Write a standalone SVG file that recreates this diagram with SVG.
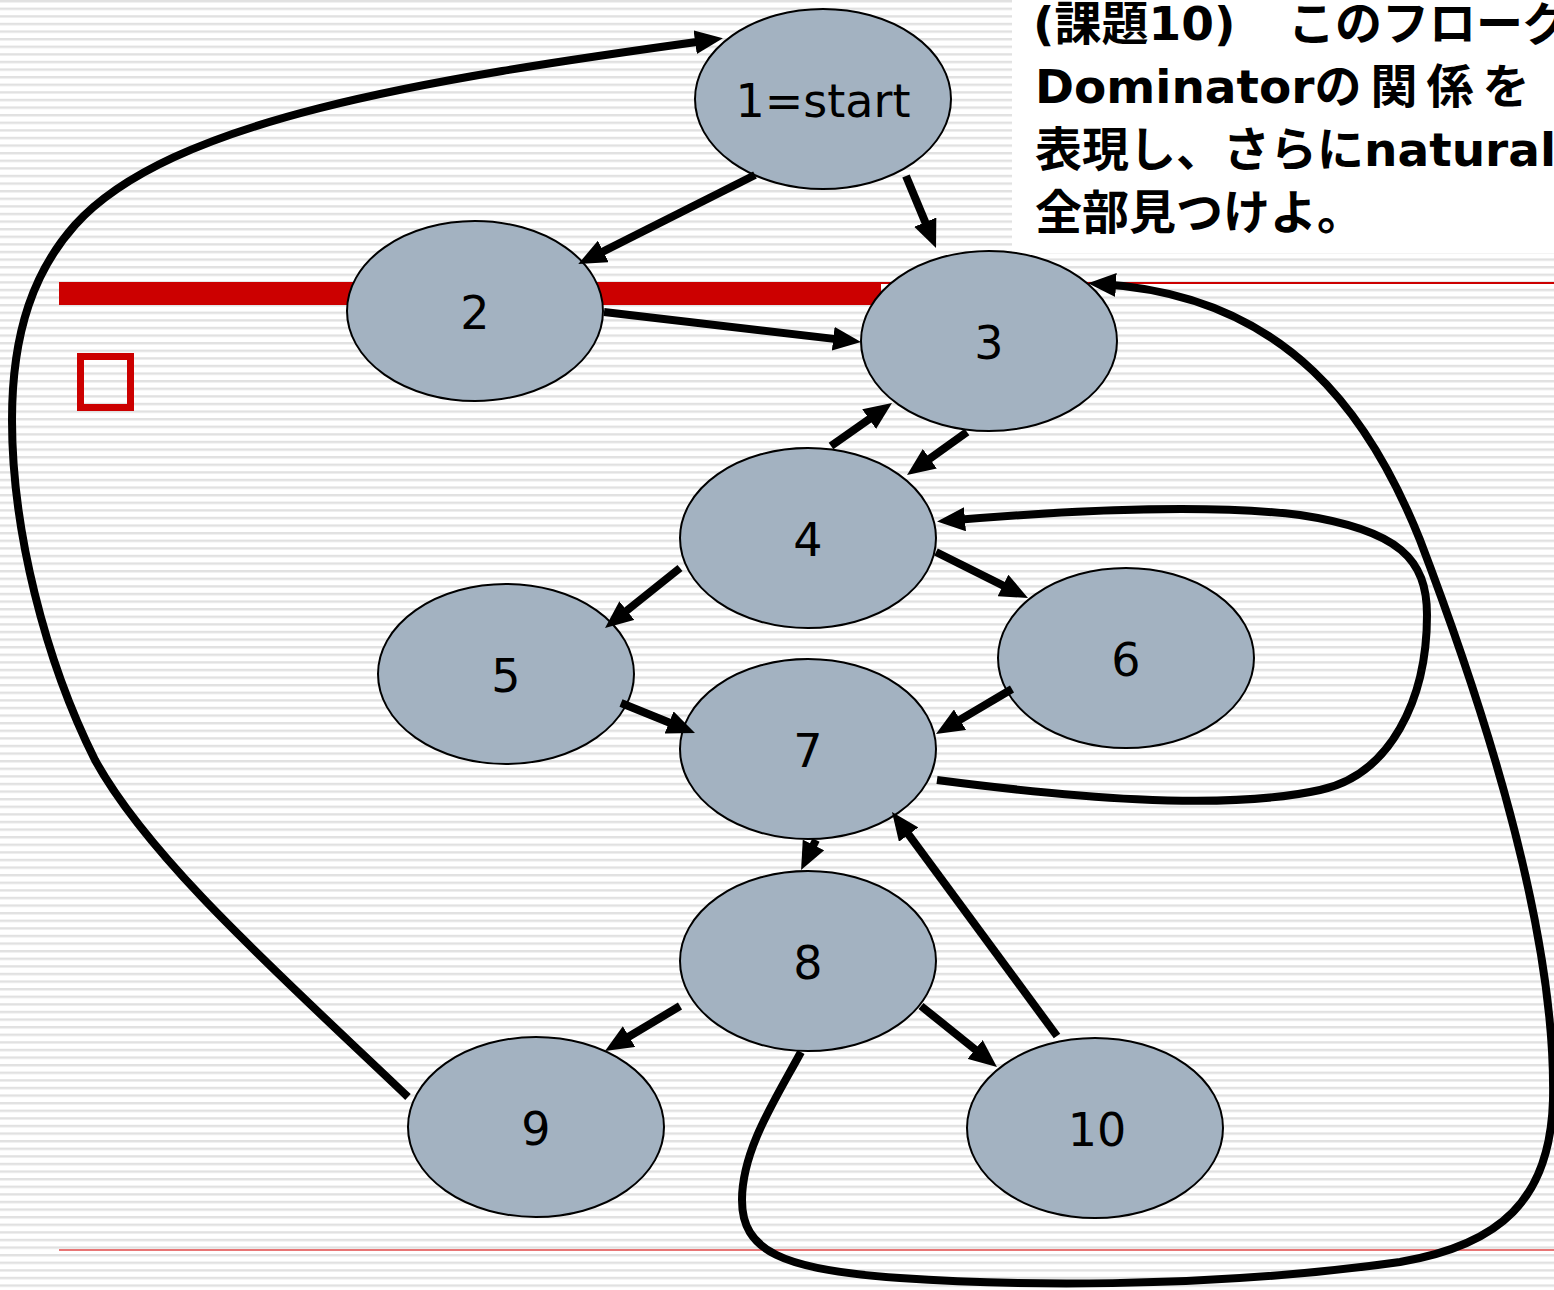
<svg xmlns="http://www.w3.org/2000/svg" width="1554" height="1290" viewBox="0 0 1554 1290">
  <defs>
    <pattern id="stripes" x="0" y="0" width="16" height="7.6" patternUnits="userSpaceOnUse">
      <rect width="16" height="7.6" fill="#ffffff"/>
      <rect y="0" width="16" height="2.4" fill="#e1e1e1"/>
    </pattern>
    <marker id="head" viewBox="0 0 28 24" refX="16" refY="12" markerWidth="28" markerHeight="24" markerUnits="userSpaceOnUse" orient="auto">
      <path d="M0,0 L28,12 L0,24 z" fill="#000"/>
    </marker>
  </defs>
  <style>
    .node ellipse { fill: #a3b2c1; stroke: #000; stroke-width: 2; }
    .node text { font-family: "DejaVu Sans", "Liberation Sans", sans-serif; font-size: 46px; fill: #000; text-anchor: middle; }
    .edge { fill: none; stroke: #000; stroke-width: 8; marker-end: url(#head); }
    .title { font-family: "DejaVu Sans", "Noto Sans CJK JP", sans-serif; font-size: 47px; font-weight: bold; fill: #000; }
  </style>

  <!-- slide background -->
  <rect width="1554" height="1290" fill="url(#stripes)"/>

  <!-- red rules and bullet -->
  <g id="decor">
    <line x1="59" y1="283" x2="1554" y2="283" stroke="#cc0000" stroke-width="2"/>
    <rect x="59" y="282" width="822" height="23" fill="#cc0000"/>
    <line x1="59" y1="1250" x2="1554" y2="1250" stroke="#e04848" stroke-width="1.6"/>
    <rect x="80.5" y="356.5" width="50" height="51" fill="none" stroke="#cc0000" stroke-width="7"/>
  </g>

  <!-- task statement -->
  <g id="caption">
    <rect x="1012" y="0" width="542" height="253" fill="#ffffff"/>
    <text class="title" x="1033" y="40">(課題10)<tspan x="1288">このフローグ</tspan></text>
    <text class="title" x="1035" y="103">Dominator<tspan letter-spacing="9">の関係を</tspan></text>
    <text class="title" x="1035" y="166">表現し、さらにnatural</text>
    <text class="title" x="1035" y="229">全部見つけよ。</text>
  </g>

  <!-- flow graph nodes -->
  <g id="n1" class="node"><ellipse cx="823" cy="99" rx="128" ry="90"/><text x="823" y="117">1=start</text></g>
  <g id="n2" class="node"><ellipse cx="475" cy="311" rx="128" ry="90"/><text x="475" y="329">2</text></g>
  <g id="n3" class="node"><ellipse cx="989" cy="341" rx="128" ry="90"/><text x="989" y="359">3</text></g>
  <g id="n4" class="node"><ellipse cx="808" cy="538" rx="128" ry="90"/><text x="808" y="556">4</text></g>
  <g id="n5" class="node"><ellipse cx="506" cy="674" rx="128" ry="90"/><text x="506" y="692">5</text></g>
  <g id="n6" class="node"><ellipse cx="1126" cy="658" rx="128" ry="90"/><text x="1126" y="676">6</text></g>
  <g id="n7" class="node"><ellipse cx="808" cy="749" rx="128" ry="90"/><text x="808" y="767">7</text></g>
  <g id="n8" class="node"><ellipse cx="808" cy="961" rx="128" ry="90"/><text x="808" y="979">8</text></g>
  <g id="n9" class="node"><ellipse cx="536" cy="1127" rx="128" ry="90"/><text x="536" y="1145">9</text></g>
  <g id="n10" class="node"><ellipse cx="1095" cy="1128" rx="128" ry="90"/><text x="1097" y="1146">10</text></g>

  <!-- control-flow edges -->
  <g id="edges">
    <path class="edge" d="M755,175 L589,258.6"/>
    <path class="edge" d="M906,176 L931.4,236.9"/>
    <path class="edge" d="M604,312 L849.1,340.6"/>
    <path class="edge" d="M831,446 L882.2,409.9"/>
    <path class="edge" d="M967,432 L916.8,468"/>
    <path class="edge" d="M680,568 L614.4,620.5"/>
    <path class="edge" d="M936,552 L1017.3,592.6"/>
    <path class="edge" d="M621,703 L683.9,728.5"/>
    <path class="edge" d="M1012,689 L946.3,727.9"/>
    <path class="edge" d="M816,840 L806.4,859.3"/>
    <path class="edge" d="M680,1006 L615.3,1044.8"/>
    <path class="edge" d="M921,1006 L987.6,1059.5"/>
    <path class="edge" d="M1057,1036 L899.1,821.7"/>
    <!-- back edge 7 -> 4 -->
    <path class="edge" d="M937,780 C1060,796 1220,812 1320,790 C1390,775 1427,700 1427,615 C1427,560 1400,530 1300,515 C1200,503 1050,512 949,520.6"/>
    <!-- back edge 9 -> 1 -->
    <path class="edge" d="M408,1097 C280,975 150,860 95,760 C45,660 12,530 12,420 C12,330 35,270 75,225 C170,120 420,80 711,40"/>
    <!-- back edge 8 -> 3 -->
    <path class="edge" d="M801,1052 C775,1100 742,1150 742,1200 C742,1250 780,1270 900,1278 C1000,1285 1200,1290 1400,1262 C1500,1245 1550,1200 1553,1100 C1556,950 1500,750 1420,540 C1372,420 1290,295 1100,284"/>
  </g>
</svg>
